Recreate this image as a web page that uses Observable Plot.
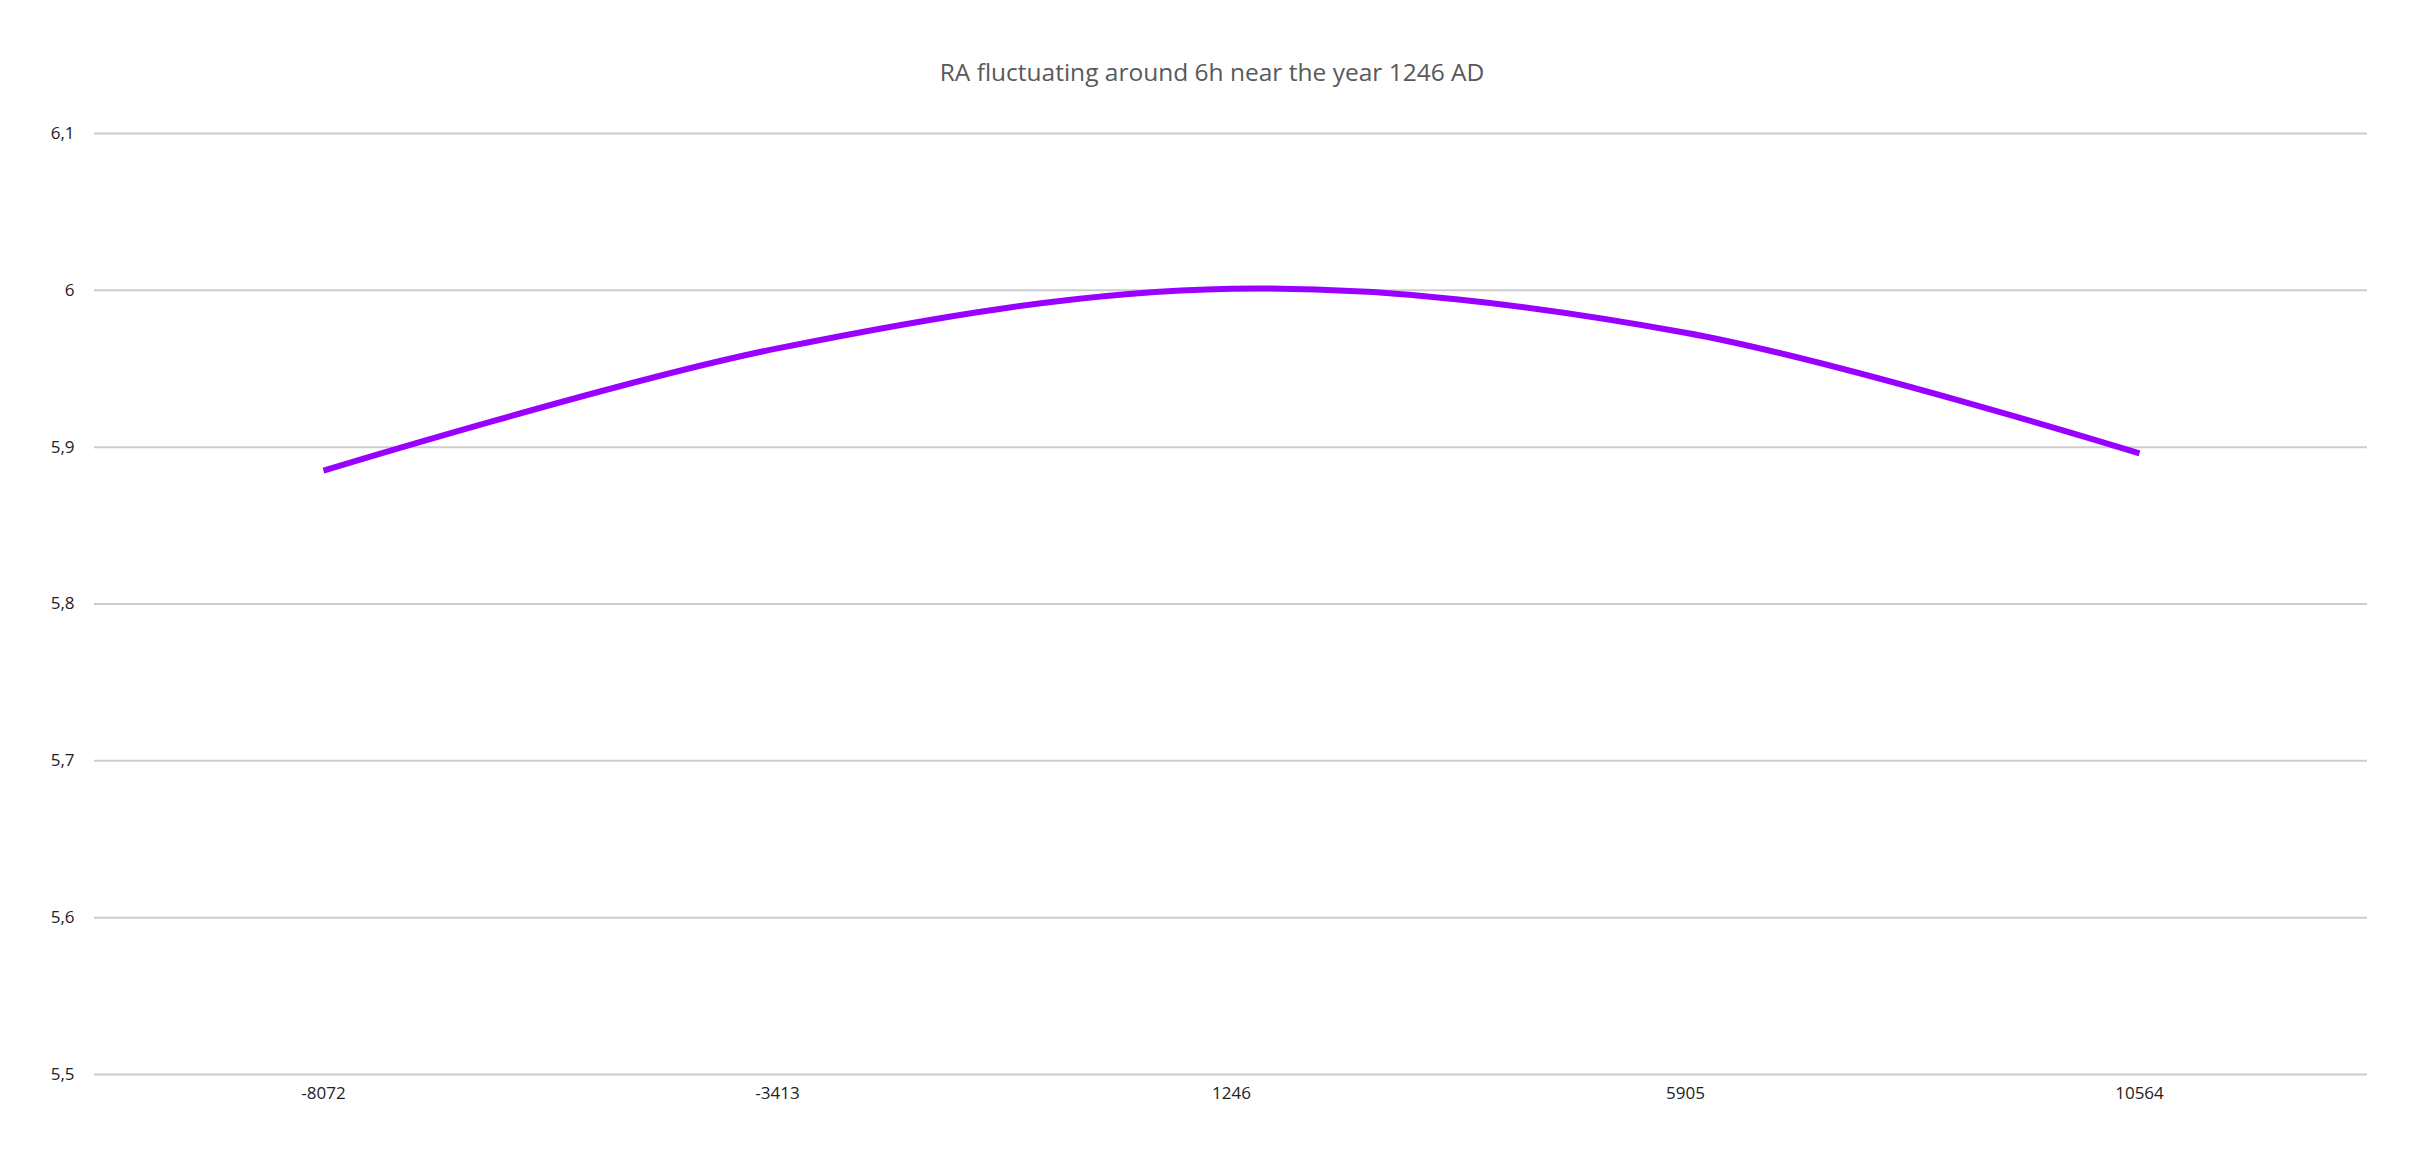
<!DOCTYPE html>
<html>
<head>
<meta charset="utf-8">
<script src="https://cdn.jsdelivr.net/npm/d3@7"></script>
<script src="https://cdn.jsdelivr.net/npm/@observablehq/plot@0.6"></script>
<style>
  html, body { margin: 0; padding: 0; background: #fff; }
  #title { height: 110px; box-sizing: border-box; padding-top: 57px; text-align: center;
    font-family: "Open Sans", sans-serif; font-size: 24.5px; color: #595959; line-height: 30px; }
  #chart svg { display: block; }
</style>
</head>
<body>
<div id="title">RA fluctuating around 6h near the year 1246 AD</div>
<div id="chart"></div>
<script>
const years = ["-8072", "-3413", "1246", "5905", "10564"];
const ra = [5.885, 5.963, 6.001, 5.973, 5.896];
const yTicks = [5.5, 5.6, 5.7, 5.8, 5.9, 6.0, 6.1];

const data = years.map((y, i) => ({year: y, ra: ra[i]}));
const fmt = d => String(+d.toFixed(1)).replace(".", ",");

const chart = Plot.plot({
  width: 2424,
  height: 1050,
  marginTop: 23,
  marginBottom: 86,
  marginLeft: 94,
  marginRight: 57,
  style: {fontFamily: "'Open Sans', sans-serif", fontSize: "17px", color: "#222", background: "#fff"},
  x: {type: "point", domain: years, padding: 0.5, label: null, tickSize: 0, tickPadding: 12},
  y: {domain: [5.5, 6.1], ticks: yTicks, tickFormat: fmt, label: null, tickSize: 0, tickPadding: 20},
  marks: [
    Plot.ruleY(yTicks, {stroke: "#cccccc", strokeWidth: 2}),
    Plot.line(data, {x: "year", y: "ra", stroke: "#9a00ff", strokeWidth: 6, curve: "cardinal", strokeLinecap: "butt"})
  ]
});
document.getElementById("chart").appendChild(chart);
</script>
</body>
</html>
